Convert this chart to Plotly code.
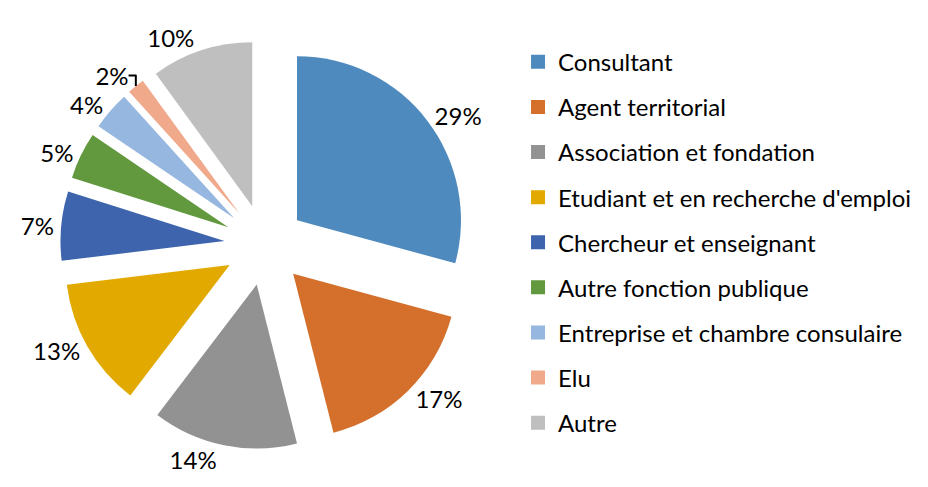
import plotly.graph_objects as go

categories = ["Consultant", "Agent territorial", "Association et fondation",
              "Etudiant et en recherche d'emploi", "Chercheur et enseignant",
              "Autre fonction publique", "Entreprise et chambre consulaire",
              "Elu", "Autre"]
# shares (labels are the rounded values)
values = [29.2, 16.8, 14.3, 12.7, 6.8, 4.6, 3.8, 1.7, 10.0]
labels_text = ["29%", "17%", "14%", "13%", "7%", "5%", "4%", "2%", "10%"]
colors = ["#4F8ABE", "#D46F2C", "#929292", "#E2AA00", "#3D64AD",
          "#62993E", "#96B7DF", "#F0A98A", "#BFBFBF"]

FONT = "Lato, Liberation Sans, sans-serif"

fig = go.Figure()
fig.add_trace(go.Pie(
    labels=categories, values=values, text=labels_text,
    textinfo="text", textposition="outside",
    texttemplate="%{text}",
    sort=False, direction="clockwise", rotation=0,
    pull=[0.247] * len(values),
    marker=dict(colors=colors, line=dict(width=0)),
    textfont=dict(family=FONT, size=24, color="#000000"),
    showlegend=False, hoverinfo="label+text",
    domain=dict(x=[52.3 / 928, 461.3 / 928], y=[1 - 441.3 / 487, 1 - 32.3 / 487]),
))

# legend entries (one per category, for spacing control)
for cat, col in zip(categories, colors):
    fig.add_trace(go.Scatter(
        x=[None], y=[None], mode="markers", name=cat,
        marker=dict(symbol="square", size=14, color=col),
        legendgroup=cat, showlegend=True, hoverinfo="skip",
    ))

fig.update_layout(
    width=928, height=487,
    margin=dict(l=0, r=0, t=0, b=0, autoexpand=False),
    paper_bgcolor="white", plot_bgcolor="white",
    xaxis=dict(visible=False), yaxis=dict(visible=False),
    legend=dict(
        x=0.5496, y=0.519, xanchor="left", yanchor="middle",
        font=dict(family=FONT, size=24, color="#000000"),
        tracegroupgap=10.9, traceorder="grouped",
        itemclick=False, itemdoubleclick=False,
    ),
)

fig.write_html("out.html")
